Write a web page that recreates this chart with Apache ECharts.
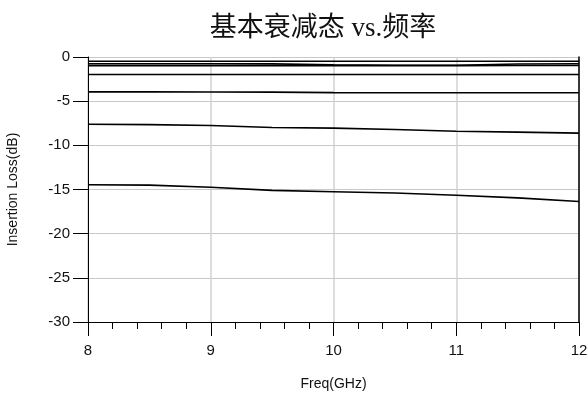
<!DOCTYPE html>
<html>
<head>
<meta charset="utf-8">
<script src="https://cdn.jsdelivr.net/npm/echarts@6/dist/echarts.min.js"></script>
<style>
  html, body { margin: 0; padding: 0; background: #fff; }
  #chart { width: 587px; height: 394px; }
</style>
</head>
<body>
<div id="chart"></div>
<script>
// Frequency sweep points (GHz)
const freq = [8, 8.5, 9, 9.5, 10, 10.5, 11, 11.5, 12];

// Insertion loss (dB) of each basic attenuation state
const state05 = [-0.48, -0.48, -0.48, -0.48, -0.48, -0.48, -0.48, -0.48, -0.48];
const state075 = [-0.76, -0.76, -0.76, -0.78, -0.88, -0.93, -0.93, -0.8, -0.76];
const state1 = [-0.98, -0.98, -0.98, -0.98, -0.98, -0.98, -0.98, -0.96, -0.96];
const state2 = [-1.98, -1.98, -1.98, -1.98, -1.98, -1.98, -1.98, -1.98, -1.98];
const state4 = [-3.95, -3.95, -3.96, -3.98, -4.03, -4.04, -4.04, -4.04, -4.04];
const state8 = [-7.62, -7.66, -7.75, -7.98, -8.05, -8.2, -8.4, -8.5, -8.62];
const state16 = [-14.46, -14.5, -14.75, -15.1, -15.25, -15.4, -15.65, -15.95, -16.35];

const titleText = '基本衰减态 vs.频率';
const xName = 'Freq(GHz)';
const yName = 'Insertion Loss(dB)';

const allStates = [state05, state075, state1, state2, state4, state8, state16];

const chart = echarts.init(document.getElementById('chart'), null, { renderer: 'canvas' });

const series = allStates.map((vals, i) => ({
  name: 'S' + i,
  type: 'line',
  data: freq.map((f, k) => [f, vals[k]]),
  showSymbol: false,
  symbol: 'none',
  lineStyle: { color: '#000', width: 1.6 },
  animation: false
}));

const labelFont = '"Liberation Sans", Arial, sans-serif';

chart.setOption({
  backgroundColor: '#fff',
  animation: false,
  title: {
    text: titleText,
    left: 318,
    textAlign: 'center',
    top: 10,
    textStyle: {
      fontFamily: '"Liberation Serif", "Noto Sans CJK SC", serif',
      fontSize: 27,
      fontWeight: 'normal',
      color: '#111'
    }
  },
  grid: { left: 88, right: 8, top: 57, bottom: 72, containLabel: false, outerBoundsMode: 'none' },
  xAxis: {
    type: 'value',
    min: 8,
    max: 12,
    interval: 1,
    name: xName,
    nameLocation: 'middle',
    nameGap: 55,
    nameTextStyle: { fontFamily: labelFont, fontSize: 14, color: '#111' },
    axisLine: { onZero: false, lineStyle: { color: '#000', width: 1 } },
    axisTick: { show: true, inside: false, length: 14, lineStyle: { color: '#000', width: 1 } },
    minorTick: { show: true, splitNumber: 5, length: 7, lineStyle: { color: '#000', width: 1 } },
    axisLabel: { fontFamily: labelFont, fontSize: 15, color: '#111', margin: 21 },
    splitLine: { show: true, lineStyle: { color: '#d2d2d2', width: 1.5 } }
  },
  yAxis: [
    {
      type: 'value',
      min: -30,
      max: 0,
      interval: 5,
      name: yName,
      nameLocation: 'middle',
      nameGap: 68,
      nameRotate: 90,
      nameTextStyle: { fontFamily: labelFont, fontSize: 14, color: '#111' },
      axisLine: { show: true, onZero: false, lineStyle: { color: '#000', width: 1 } },
      axisTick: { show: true, inside: false, length: 15, lineStyle: { color: '#000', width: 1 } },
      axisLabel: { fontFamily: labelFont, fontSize: 15, color: '#111', margin: 18 },
      splitLine: { show: true, lineStyle: { color: '#c8c8c8', width: 1.2 } }
    },
    {
      type: 'value',
      position: 'right',
      min: -30,
      max: 0,
      interval: 5,
      axisLine: { show: true, onZero: false, lineStyle: { color: '#000', width: 1.5 } },
      axisTick: { show: false },
      axisLabel: { show: false },
      splitLine: { show: false }
    }
  ],
  series: series
});
</script>
</body>
</html>
